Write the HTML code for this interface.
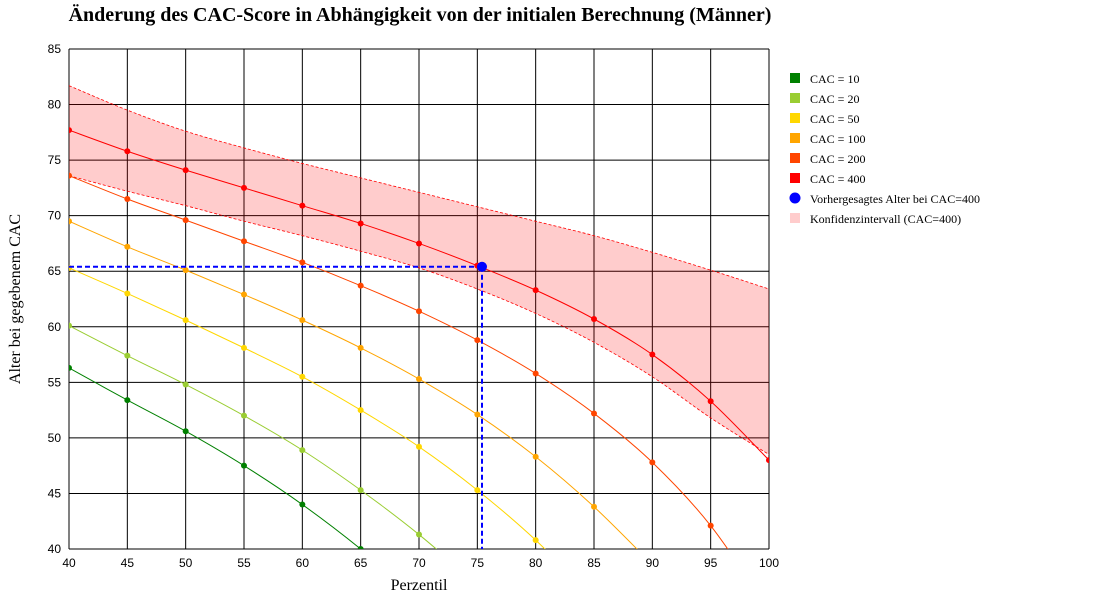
<!DOCTYPE html>
<html><head><meta charset="utf-8"><style>
body{margin:0;background:#fff;width:1120px;height:600px;overflow:hidden}
svg text{font-family:"Liberation Serif",serif}
.tick{font-family:"Liberation Sans",sans-serif;font-size:12px}
</style></head><body>
<svg id="c" width="1120" height="600"></svg>
<script>
const xCats=[40,45,50,55,60,65,70,75,80,85,90,95,100];
const xTicks=[40,45,50,55,60,65,70,75,80,85,90,95,100];
const yTicks=[40,45,50,55,60,65,70,75,80,85];
const cac10=[56.3,53.4,50.6,47.5,44.0,40.0,35.5];
const cac20=[60.1,57.4,54.8,52.0,48.9,45.3,41.3,36.8];
const cac50=[65.3,63.0,60.6,58.1,55.5,52.5,49.2,45.3,40.8,35.5];
const cac100=[69.5,67.2,65.1,62.9,60.6,58.1,55.3,52.1,48.3,43.8,38.6];
const cac200=[73.6,71.5,69.6,67.7,65.8,63.7,61.4,58.8,55.8,52.2,47.8,42.1,34.5];
const cac400=[77.7,75.8,74.1,72.5,70.9,69.3,67.5,65.5,63.3,60.7,57.5,53.3,48.0];
const ciUpper=[81.7,79.5,77.6,76.1,74.7,73.4,72.1,70.8,69.5,68.2,66.7,65.1,63.4];
const ciLower=[73.6,72.2,70.9,69.5,68.2,66.8,65.3,63.4,61.2,58.6,55.5,51.8,48.5];
const predX=75.4, predY=65.4;
const seriesNames=["CAC = 10","CAC = 20","CAC = 50","CAC = 100","CAC = 200","CAC = 400"];
const seriesColors=["green","yellowgreen","gold","orange","orangered","red"];
const seriesData=[cac10,cac20,cac50,cac100,cac200,cac400];

const L=69,R=769,T=49,B=549;
const xs=v=>L+(v-40)/60*(R-L);
const ys=v=>B-(v-40)/45*(B-T);
const NS="http://www.w3.org/2000/svg";
const svg=document.getElementById('c');
function mk(tag,attrs,parent){const e=document.createElementNS(NS,tag);for(const k in attrs)e.setAttribute(k,attrs[k]);(parent||svg).appendChild(e);return e;}
function smooth(pts){let d="M"+pts[0][0]+","+pts[0][1];for(let i=0;i<pts.length-1;i++){const p0=pts[i-1]||pts[i],p1=pts[i],p2=pts[i+1],p3=pts[i+2]||p2;
d+=" C"+(p1[0]+(p2[0]-p0[0])/6)+","+(p1[1]+(p2[1]-p0[1])/6)+" "+(p2[0]-(p3[0]-p1[0])/6)+","+(p2[1]-(p3[1]-p1[1])/6)+" "+p2[0]+","+p2[1];}return d;}
const defs=mk('defs',{});const cp=mk('clipPath',{id:'clip'},defs);mk('rect',{x:L,y:T,width:R-L,height:B-T},cp);

const t=mk('text',{x:420,y:21,'text-anchor':'middle','font-size':'20','font-weight':'bold'});t.textContent="Änderung des CAC-Score in Abhängigkeit von der initialen Berechnung (Männer)";


const grid=mk('g',{});
xTicks.forEach(v=>{mk('line',{x1:xs(v),x2:xs(v),y1:T,y2:B,stroke:'#000','stroke-width':1},grid);
const tx=mk('text',{x:xs(v),y:B+18,'text-anchor':'middle',class:'tick'});tx.textContent=v;});
yTicks.forEach(v=>{mk('line',{x1:L,x2:R,y1:ys(v),y2:ys(v),stroke:'#000','stroke-width':1},grid);
const tx=mk('text',{x:L-8,y:ys(v)+4,'text-anchor':'end',class:'tick'});tx.textContent=v;});

const g=mk('g',{'clip-path':'url(#clip)'});
const up=xCats.map((x,i)=>[xs(x),ys(ciUpper[i])]), lo=xCats.map((x,i)=>[xs(x),ys(ciLower[i])]);
const lor=lo.slice().reverse();
let band=smooth(up)+" L"+lor[0][0]+","+lor[0][1]+smooth(lor).replace(/^M[^ C]+/,"")+" Z";
const bp=mk('path',{d:band,fill:'rgba(255,0,0,0.2)',stroke:'none'},g);

[up,lo].forEach(p=>{const e=mk('path',{d:smooth(p),fill:'none',stroke:'red','stroke-width':0.8,'stroke-dasharray':'3,2'},g);
});

seriesData.forEach((arr,si)=>{const pts=arr.map((v,i)=>[xs(xCats[i]),ys(v)]);
const p=mk('path',{d:smooth(pts),fill:'none',stroke:seriesColors[si],'stroke-width':1},g);

arr.forEach((v,i)=>{if(v<40-0.01)return;const c=mk('circle',{cx:xs(xCats[i]),cy:ys(v),r:3,fill:seriesColors[si]},g);
});});

const pg=mk('g',{});
mk('line',{x1:L,x2:xs(predX),y1:ys(predY),y2:ys(predY),stroke:'blue','stroke-width':2,'stroke-dasharray':'5,3'},pg);
mk('line',{x1:xs(predX),x2:xs(predX),y1:ys(predY),y2:B,stroke:'blue','stroke-width':2,'stroke-dasharray':'5,3'},pg);
const pc=mk('circle',{cx:xs(predX),cy:ys(predY),r:5,fill:'blue'},pg);


const xl=mk('text',{x:419,y:590,'text-anchor':'middle','font-size':'16'});xl.textContent="Perzentil";

const yl=mk('text',{x:0,y:0,'text-anchor':'middle','font-size':'16',transform:'translate(20,299) rotate(-90)'});yl.textContent="Alter bei gegebenem CAC";


const lg=mk('g',{});
const legNames=seriesNames.concat(["Vorhergesagtes Alter bei CAC=400","Konfidenzintervall (CAC=400)"]);
legNames.forEach((n,i)=>{const y=78+i*20;
if(i==6){mk('circle',{cx:795,cy:y,r:5.5,fill:'blue'},lg);}
else{mk('rect',{x:790,y:y-5,width:10,height:10,fill:i==7?'rgba(255,0,0,0.2)':seriesColors[i]},lg);}
const tx=mk('text',{x:810,y:y+5,'font-size':'12'},lg);tx.textContent=n;
});
</script></body></html>
